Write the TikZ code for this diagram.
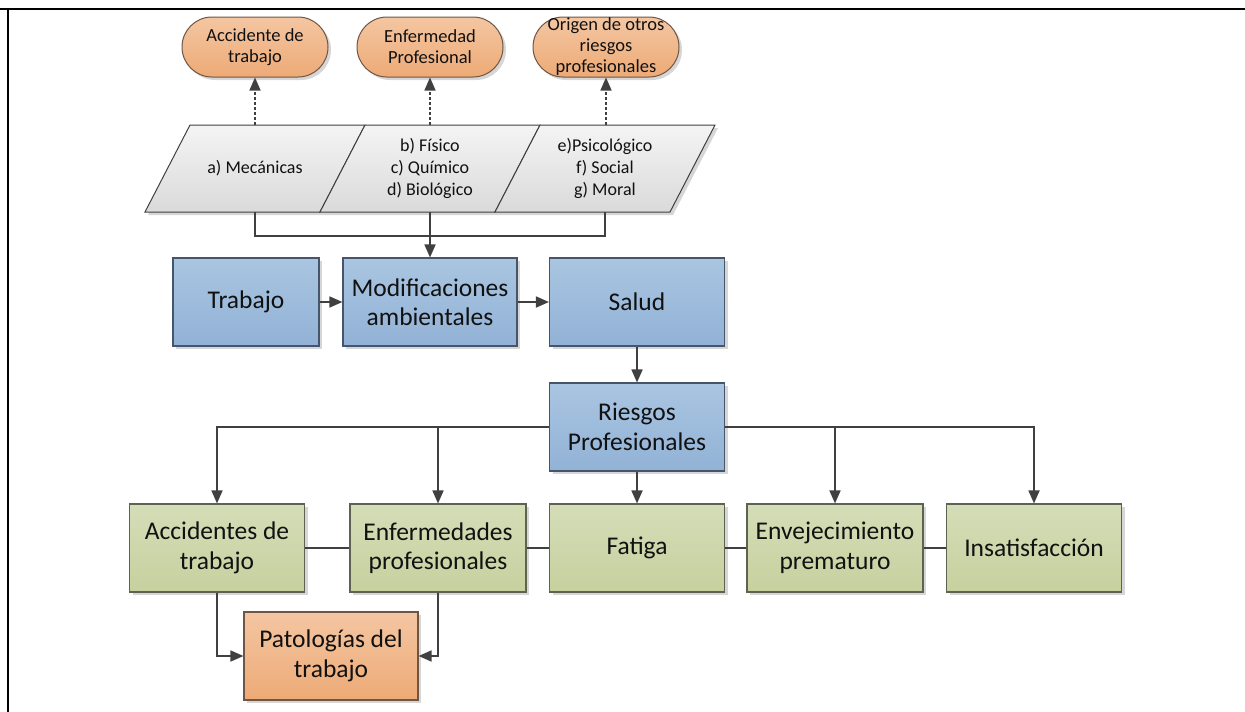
\documentclass[tikz,border=0pt]{standalone}
\usepackage{fontspec}
\setmainfont{Carlito}
\usetikzlibrary{arrows.meta,shadows}

\definecolor{linegray}{HTML}{404040}
\definecolor{txt}{HTML}{111111}
\definecolor{blueTop}{HTML}{A9C5E1}
\definecolor{blueBot}{HTML}{92B2D6}
\definecolor{blueEdge}{HTML}{46556B}
\definecolor{greenTop}{HTML}{D5DDB8}
\definecolor{greenBot}{HTML}{C7D09E}
\definecolor{greenEdge}{HTML}{5D6350}
\definecolor{orTop}{HTML}{F4C6A2}
\definecolor{orBot}{HTML}{EDAA76}
\definecolor{orEdge}{HTML}{6E5544}
\definecolor{grTop}{HTML}{F4F4F4}
\definecolor{grBot}{HTML}{DADADA}

\tikzset{
  softshadow/.style={drop shadow={shadow xshift=3pt,shadow yshift=-3pt,fill=black!16,opacity=1}},
  box/.style={rectangle, inner sep=0pt, minimum height=88pt, align=center, text=txt,
    font=\fontsize{25.5}{29.5}\selectfont, line width=1.1pt, softshadow},
  bluebox/.style={box, draw=blueEdge, top color=blueTop, bottom color=blueBot},
  greenbox/.style={box, draw=greenEdge, top color=greenTop, bottom color=greenBot},
  orangebox/.style={box, draw=orEdge, top color=orTop, bottom color=orBot},
  pill/.style={rectangle, rounded corners=30pt, inner sep=0pt, minimum width=146pt,
    minimum height=60pt, align=center, text=txt, draw=orEdge, line width=1pt,
    top color=orTop, bottom color=orBot, font=\fontsize{18.5}{21}\selectfont, softshadow},
  paratext/.style={rectangle, inner sep=0pt, minimum width=130pt, minimum height=87pt,
    align=center, text=txt, font=\fontsize{18}{22}\selectfont},
  parafill/.style={draw=linegray, line width=1pt, top color=grTop, bottom color=grBot, softshadow},
  conn/.style={draw=linegray, line width=1.7pt},
  arr/.style={conn, -{Triangle[length=13pt,width=11pt]}},
  dasharr/.style={draw=linegray, line width=1.5pt, dash pattern=on 3pt off 2pt,
    -{Triangle[length=13pt,width=11pt]}},
}

\begin{document}
\begin{tikzpicture}[x=1pt,y=-1pt]
\useasboundingbox (0,0) rectangle (1245,712);

% frame: top and left rules
\draw[line width=2.6pt] (0,9) -- (1245,9);
\draw[line width=2.6pt] (8,9) -- (8,712);

% sheared category panels
\foreach \cx in {255,430,605}{
  \path[parafill] (\cx-110,212) -- (\cx+65,212) -- (\cx+110,125) -- (\cx-65,125) -- cycle;
}
\node[paratext] (p1) at (255,168.5) {a) Mecánicas};
\node[paratext] (p2) at (430,168.5) {b) Físico\\c) Químico\\d) Biológico};
\node[paratext] (p3) at (605,168.5) {e)Psicológico\\f) Social\\g) Moral};

% outcome pills
\node[pill] (s1) at (255,47) {Accidente de\\trabajo};
\node[pill] (s2) at (430,47) {Enfermedad\\Profesional};
\node[pill] (s3) at (606,47) {Origen de otros\\riesgos\\profesionales};

% main chain
\node[bluebox, minimum width=146pt] (trab) at (246,302) {Trabajo};
\node[bluebox, minimum width=174pt] (mod) at (430,302) {Modificaciones\\ambientales};
\node[bluebox, minimum width=175pt] (sal) at (637,302) {Salud};
\node[bluebox, minimum width=175pt] (ries) at (637,427) {Riesgos\\Profesionales};

% consequences
\node[greenbox, minimum width=175pt] (acc) at (217,548) {Accidentes de\\trabajo};
\node[greenbox, minimum width=176pt] (enf) at (438,548) {Enfermedades\\profesionales};
\node[greenbox, minimum width=175pt] (fat) at (637,548) {Fatiga};
\node[greenbox, minimum width=176pt] (env) at (835,548) {Envejecimiento\\prematuro};
\node[greenbox, minimum width=175pt] (ins) at (1034,548) {Insatisfacción};

\node[orangebox, minimum width=174pt] (pat) at (331,656) {Patologías del\\trabajo};

% dashed links to outcomes
\draw[dasharr] (p1.north) -- (s1.south);
\draw[dasharr] (p2.north) -- (s2.south);
\draw[dasharr] (p3.north -| s3.south) -- (s3.south);

% panels merge into the chain
\draw[conn] (p1.south) -- ++(0,24) -| (p3.south);
\draw[arr] (p2.south) -- (mod.north);

\draw[arr] (trab) -- (mod);
\draw[arr] (mod) -- (sal);
\draw[arr] (sal) -- (ries);

% distribution from Riesgos Profesionales
\draw[arr] (ries.west) -| (acc.north);
\draw[arr] (enf.north |- ries.west) -- (enf.north);
\draw[arr] (ries.east) -| (ins.north);
\draw[arr] (env.north |- ries.east) -- (env.north);
\draw[arr] (ries) -- (fat);

% links between consequences
\draw[conn] (acc) -- (enf);
\draw[conn] (enf) -- (fat);
\draw[conn] (fat) -- (env);
\draw[conn] (env) -- (ins);

% into Patologías del trabajo
\draw[arr] (acc.south) |- (pat.west);
\draw[arr] (enf.south) |- (pat.east);
\end{tikzpicture}
\end{document}
